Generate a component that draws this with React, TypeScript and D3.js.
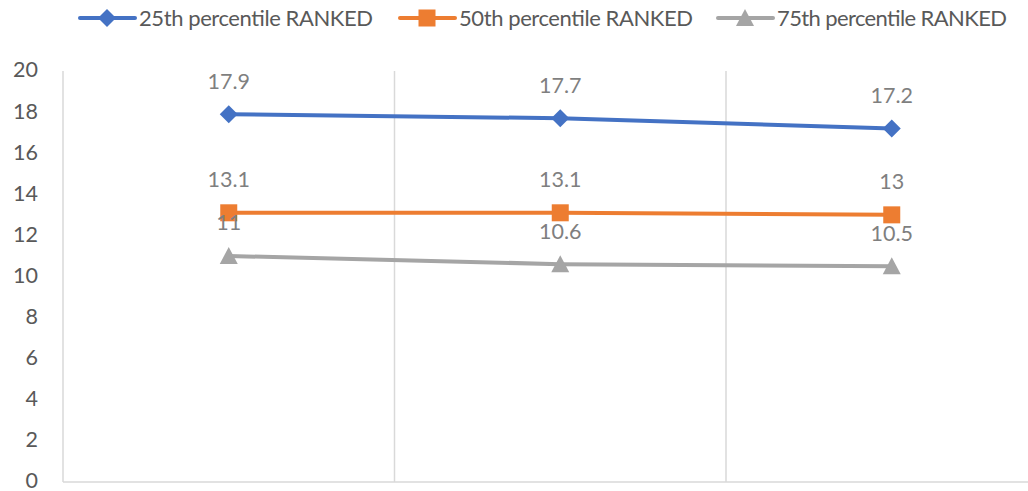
import React from "react";
import * as d3 from "d3";

const categories = ["A", "B", "C"];
const seriesNames = ["25th percentile RANKED", "50th percentile RANKED", "75th percentile RANKED"];
const p25 = [17.9, 17.7, 17.2];
const p50 = [13.1, 13.1, 13];
const p75 = [11, 10.6, 10.5];
const yTicks = [0, 2, 4, 6, 8, 10, 12, 14, 16, 18, 20];
const colors = ["#4472C4", "#ED7D31", "#A5A5A5"];

const W = 1028, H = 491;
const left = 63, top = 71, bottom = 482;
const step = 331.5;

export default function App() {
  const x = d3.scaleBand<string>().domain(categories).range([left, left + step * categories.length]).padding(0);
  const y = d3.scaleLinear().domain([0, 20]).range([bottom, top]);
  const cx = (c: string) => (x(c) as number) + x.bandwidth() / 2;
  const data = [p25, p50, p75];
  const line = d3.line<[number, number]>().x((d) => d[0]).y((d) => d[1]);
  const font = "Lato, Carlito, Calibri, sans-serif";
  const legendX = [80, 400, 718];
  const legendW = [234, 234, 230];

  const marker = (i: number, px: number, py: number, key: string) => {
    const c = colors[i];
    if (i === 0) {
      const s = 9;
      return <path key={key} d={`M${px},${py - s}L${px + s},${py}L${px},${py + s}L${px - s},${py}Z`} fill={c} />;
    }
    if (i === 1) {
      return <rect key={key} x={px - 8.5} y={py - 8.5} width={17} height={17} fill={c} />;
    }
    return <path key={key} d={`M${px},${py - 9}L${px + 9},${py + 8}L${px - 9},${py + 8}Z`} fill={c} />;
  };

  return (
    <svg width={W} height={H} style={{ position: "absolute", left: 0, top: 0, background: "#fff" }} fontFamily={font}>
      {categories.map((c) => (
        <line key={c} x1={x(c)} x2={x(c)} y1={top} y2={bottom} stroke="#D9D9D9" strokeWidth={1.5} />
      ))}
      <line x1={left} x2={W} y1={bottom} y2={bottom} stroke="#D9D9D9" strokeWidth={1.5} />
      {yTicks.map((t) => (
        <text key={t} x={38} y={y(t)} dy="0.3em" textAnchor="end" fontSize={21.5} fill="#595959">
          {t}
        </text>
      ))}
      {data.map((vals, i) => {
        const pts: [number, number][] = vals.map((v, j) => [cx(categories[j]), y(v)]);
        return (
          <g key={i}>
            <path d={line(pts) as string} fill="none" stroke={colors[i]} strokeWidth={4} strokeLinecap="round" />
            {pts.map((p, j) => marker(i, p[0], p[1], `m${j}`))}
            {pts.map((p, j) => (
              <text key={`t${j}`} x={p[0]} y={p[1] - 33} dy="0.35em" textAnchor="middle" fontSize={21.5} fill="#7F7F7F">
                {vals[j]}
              </text>
            ))}
          </g>
        );
      })}
      {seriesNames.map((n, i) => (
        <g key={n}>
          <line x1={legendX[i]} x2={legendX[i] + 55} y1={18} y2={18} stroke={colors[i]} strokeWidth={4} strokeLinecap="round" />
          {marker(i, legendX[i] + 27, 18, "lm")}
          <text x={legendX[i] + 59} y={18} dy="0.35em" fontSize={22} fill="#595959" textLength={legendW[i]} lengthAdjust="spacing">
            {n}
          </text>
        </g>
      ))}
    </svg>
  );
}
